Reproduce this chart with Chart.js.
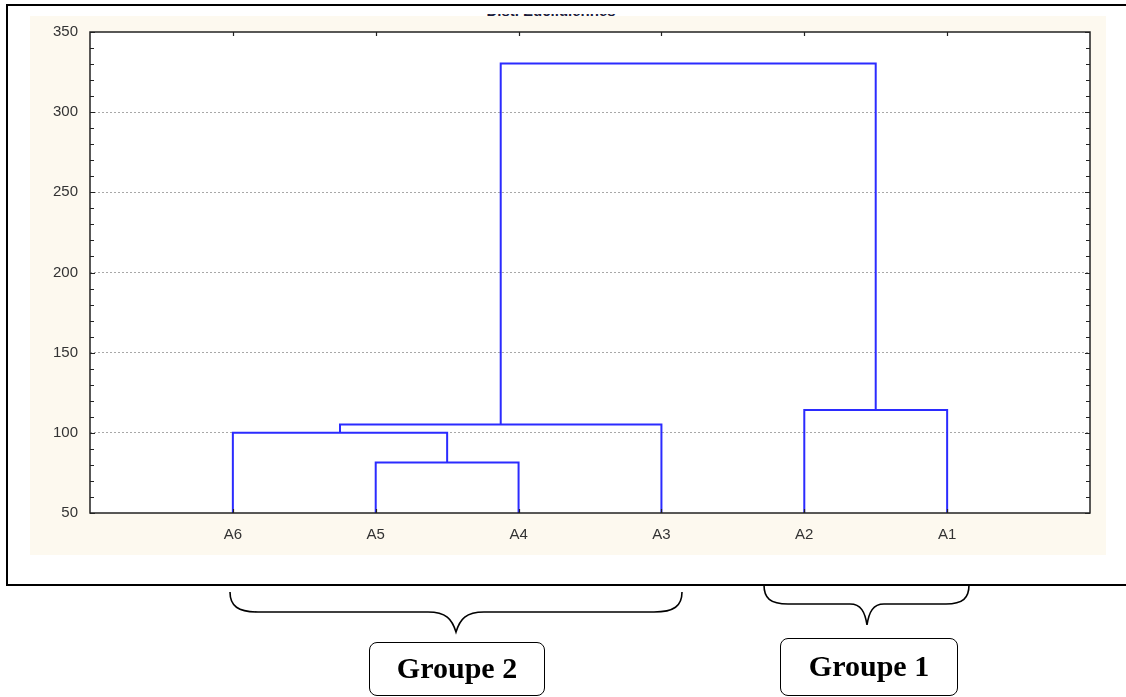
<!DOCTYPE html>
<html>
<head>
<meta charset="utf-8">
<script src="https://cdn.jsdelivr.net/npm/chart.js@4"></script>
<style>
  body { margin: 0; background: #fff; width: 1126px; height: 697px; overflow: hidden; position: relative; font-family: "Liberation Sans", Arial, sans-serif; }
  #frame { position: absolute; left: 6px; top: 4px; width: 1140px; height: 578px; border: 2px solid #000; }
  #panel { position: absolute; left: 30px; top: 16px; width: 1076px; height: 539px; background: #fdf9ef; }
  #chartBox { position: absolute; left: 30px; top: 16px; width: 1076px; height: 539px; }
  #titleClip { position: absolute; left: 401px; top: 14px; width: 300px; height: 4px; overflow: hidden; }
  #titleClip div { position: relative; top: -11px; text-align: center; font: bold 15px/15px "Liberation Sans", Arial, sans-serif; color: #1a1a3a; }
  svg { position: absolute; left: 0; top: 0; }
  .grp { position: absolute; border: 1.5px solid #000; border-radius: 8px; box-sizing: border-box; font: bold 30px "Liberation Serif", "Times New Roman", serif; text-align: center; color: #000; }
</style>
</head>
<body>
<div id="frame"></div>
<div id="panel"></div>
<div id="titleClip"><div>Dist. Euclidiennes</div></div>
<div id="chartBox"><canvas id="dendro"></canvas></div>
<svg width="1126" height="697">
  <path d="M230,592 C230,606 238,612 258,612 L428,612 C446,612 452,619 456,632 C460,619 466,612 484,612 L654,612 C674,612 682,606 682,592" fill="none" stroke="#000" stroke-width="1.6"/>
  <path d="M764,585 C764,598 770,604 788,604 L850,604 C861,604 865,612 867,625 C869,612 873,604 884,604 L946,604 C963,604 969,598 969,585" fill="none" stroke="#000" stroke-width="1.6"/>
</svg>
<div class="grp" style="left:369px; top:642px; width:176px; height:54px; line-height:50px;">Groupe 2</div>
<div class="grp" style="left:780px; top:638px; width:178px; height:58px; line-height:54px;">Groupe 1</div>
<script>
// DATA
const leaves = ['A6', 'A5', 'A4', 'A3', 'A2', 'A1'];
// merges: [left, right, height]; 0-5 are leaves, 6+ are earlier merges
const merges = [
  [1, 2, 81.5],
  [0, 6, 100],
  [7, 3, 105.2],
  [4, 5, 114.2],
  [8, 9, 330.3]
];
const yTicks = [50, 100, 150, 200, 250, 300, 350];
const yMin = 50, yMax = 350;

// build dendrogram links
const nodeX = leaves.map((_, i) => i + 1);
const nodeY = leaves.map(() => yMin);
const datasets = [];
merges.forEach(([a, b, h]) => {
  datasets.push({
    data: [
      { x: nodeX[a], y: nodeY[a] },
      { x: nodeX[a], y: h },
      { x: nodeX[b], y: h },
      { x: nodeX[b], y: nodeY[b] }
    ],
    showLine: true,
    borderColor: '#2b2bff',
    borderWidth: 2,
    pointRadius: 0,
    fill: false,
    tension: 0
  });
  nodeX.push((nodeX[a] + nodeX[b]) / 2);
  nodeY.push(h);
});

// plot background, frame and inward tick marks
const plotDeco = {
  id: 'plotDeco',
  beforeDraw(chart) {
    const { ctx, chartArea: a } = chart;
    ctx.save();
    ctx.fillStyle = '#fff';
    ctx.fillRect(a.left, a.top, a.right - a.left, a.bottom - a.top);
    ctx.restore();
  },
  afterDraw(chart) {
    const { ctx, chartArea: a, scales } = chart;
    ctx.save();
    ctx.strokeStyle = '#222';
    ctx.lineWidth = 1.5;
    ctx.strokeRect(a.left, a.top, a.right - a.left, a.bottom - a.top);
    ctx.beginPath();
    for (let v = yMin; v <= yMax; v += 10) {
      const y = Math.round(scales.y.getPixelForValue(v)) + 0.5;
      const len = v % 50 === 0 ? 5 : 4;
      ctx.moveTo(a.left, y); ctx.lineTo(a.left + len, y);
      ctx.moveTo(a.right, y); ctx.lineTo(a.right - len, y);
    }
    leaves.forEach((_, i) => {
      const x = Math.round(scales.x.getPixelForValue(i + 1)) + 0.5;
      ctx.moveTo(x, a.bottom); ctx.lineTo(x, a.bottom - 4);
      ctx.moveTo(x, a.top); ctx.lineTo(x, a.top + 4);
    });
    ctx.lineWidth = 1.2;
    ctx.stroke();
    ctx.restore();
  }
};

const chart = new Chart(document.getElementById('dendro').getContext('2d'), {
  type: 'scatter',
  data: { datasets: datasets },
  options: {
    responsive: true,
    maintainAspectRatio: false,
    animation: false,
    layout: { padding: { top: 16, right: 16, left: 0, bottom: 0 } },
    plugins: { legend: { display: false }, tooltip: { enabled: false }, title: { display: false } },
    scales: {
      x: {
        type: 'linear',
        min: 0,
        max: leaves.length + 1,
        afterBuildTicks: (axis) => { axis.ticks = leaves.map((_, i) => ({ value: i + 1 })); },
        afterFit: (axis) => { axis.height = 42; axis.paddingLeft = 0; axis.paddingRight = 0; },
        grid: { display: false, drawTicks: false },
        border: { display: false },
        ticks: {
          padding: 13,
          color: '#333',
          font: { family: 'Liberation Sans', size: 15 },
          callback: (v) => leaves[v - 1]
        }
      },
      y: {
        min: yMin,
        max: yMax,
        afterBuildTicks: (axis) => { axis.ticks = yTicks.map(v => ({ value: v })); },
        afterFit: (axis) => { axis.width = 60; axis.paddingTop = 0; axis.paddingBottom = 0; },
        grid: {
          drawTicks: false,
          lineWidth: 1,
          color: (c) => (c.tick && (c.tick.value === yMin || c.tick.value === yMax)) ? 'rgba(0,0,0,0)' : '#a8a8a8'
        },
        border: { display: false, dash: [2, 2] },
        ticks: {
          padding: 12,
          color: '#333',
          font: { family: 'Liberation Sans', size: 15 }
        }
      }
    }
  },
  plugins: [plotDeco]
});
</script>
</body>
</html>
